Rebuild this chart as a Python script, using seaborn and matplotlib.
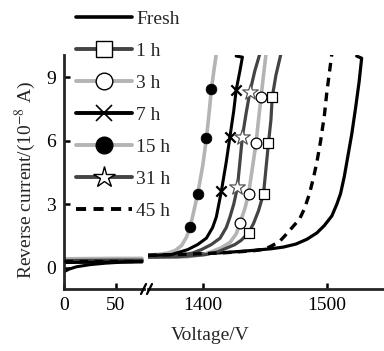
import matplotlib
matplotlib.use("Agg")
import matplotlib.pyplot as plt
from matplotlib.lines import Line2D
import seaborn as sns

# ---------------- data ----------------
labels = ["Fresh", "1 h", "3 h", "7 h", "15 h", "31 h", "45 h"]

# left segment (0-76 V)
left_v = [0, 25, 50, 75]
fresh_left_v = [0, 5, 12, 25, 40, 60, 75]
fresh_left_i = [-0.18, -0.06, 0.05, 0.15, 0.22, 0.28, 0.3]
h1_left_i = [0.30, 0.31, 0.32, 0.33]
h3_left_i = [0.38, 0.39, 0.40, 0.40]
h7_left_i = [0.25, 0.26, 0.27, 0.28]
h15_left_i = [0.42, 0.43, 0.44, 0.44]
h31_left_i = [0.34, 0.35, 0.36, 0.36]
h45_left_i = [0.30, 0.30, 0.30, 0.30]

# right segment (1356-1546 V)
fresh_v = [1356, 1380, 1400, 1420, 1440, 1455, 1465, 1475, 1484, 1492, 1498,
           1504, 1508, 1511, 1514, 1517, 1520, 1523, 1526, 1528, 1524]
fresh_i = [0.55, 0.6, 0.66, 0.73, 0.82, 0.9, 0.98, 1.12, 1.35, 1.65, 2.0,
           2.45, 3.0, 3.5, 4.3, 5.3, 6.3, 7.5, 8.8, 9.9, 10.0]

h1_v = [1356, 1380, 1402, 1412, 1420, 1426, 1431, 1437, 1441, 1445, 1449,
        1451, 1453, 1455, 1456, 1459, 1463]
h1_i = [0.5, 0.52, 0.62, 0.75, 0.95, 1.1, 1.3, 1.65, 2.1, 2.7, 3.5,
        4.7, 5.9, 7.0, 8.05, 9.1, 10.1]
h1_mv = [1437, 1449, 1453, 1456]
h1_mi = [1.65, 3.5, 5.9, 8.05]

h3_v = [1356, 1388, 1400, 1407, 1415, 1422, 1427, 1430, 1434, 1437, 1440,
        1443, 1445, 1447, 1449, 1451]
h3_i = [0.5, 0.52, 0.62, 0.76, 0.95, 1.2, 1.6, 2.1, 2.8, 3.5, 4.7,
        5.9, 7.0, 8.05, 9.1, 10.1]
h3_mv = [1430, 1437, 1443, 1447]
h3_mi = [2.1, 3.5, 5.9, 8.05]

h7_v = [1356, 1375, 1388, 1396, 1403, 1408, 1411, 1415, 1419, 1422, 1425,
        1427, 1430, 1432, 1427]
h7_i = [0.58, 0.63, 0.86, 1.1, 1.4, 1.9, 2.4, 3.6, 5.0, 6.2, 7.4,
        8.4, 9.3, 9.95, 10.0]
h7_mv = [1415, 1422, 1427]
h7_mi = [3.65, 6.2, 8.4]

h15_v = [1356, 1365, 1372, 1378, 1383, 1387, 1390, 1393, 1396, 1400, 1403,
         1405, 1407, 1409, 1411]
h15_i = [0.6, 0.64, 0.7, 0.82, 1.05, 1.45, 1.95, 2.7, 3.5, 4.8, 6.1,
         7.2, 8.4, 9.3, 10.1]
h15_mv = [1390, 1396, 1403, 1407]
h15_mi = [1.95, 3.5, 6.15, 8.45]

h31_v = [1356, 1380, 1392, 1399, 1407, 1414, 1419, 1422, 1425, 1428, 1430,
         1432, 1435, 1438, 1442, 1446]
h31_i = [0.55, 0.57, 0.7, 0.86, 1.1, 1.4, 1.9, 2.4, 3.0, 3.8, 5.0,
         6.2, 7.3, 8.3, 9.3, 10.1]
h31_mv = [1428, 1432, 1438]
h31_mi = [3.8, 6.2, 8.3]

h45_v = [1356, 1380, 1400, 1420, 1440, 1450, 1456, 1462, 1466, 1472, 1478,
         1482, 1486, 1489, 1492, 1495, 1498, 1500, 1502, 1504]
h45_i = [0.6, 0.63, 0.67, 0.72, 0.8, 0.88, 1.05, 1.25, 1.5, 1.9, 2.3,
         2.8, 3.5, 4.2, 5.0, 6.0, 7.2, 8.3, 9.2, 10.1]

left_xticks = [0, 50]
right_xticks = [1400, 1500]
yticks = [0, 3, 6, 9]

# ---------------- style ----------------
sns.set_style("ticks")
plt.rcParams["font.family"] = ["Liberation Serif", "DejaVu Serif"]
plt.rcParams["mathtext.fontset"] = "stix"
FS = 14

BLACK = "#000000"
DARK = "#444444"
LIGHT = "#b4b4b4"

fig = plt.figure(figsize=(3.84, 3.51), dpi=100)
W, H = 384, 351
axL = fig.add_axes([64 / W, 1 - 289 / H, (144 - 64) / W, (289 - 55) / H])
axR = fig.add_axes([148 / W, 1 - 289 / H, (384 - 148) / W, (289 - 55) / H])

def line(ax, x, y, color, lw, ls="-", z=2):
    sns.lineplot(x=x, y=y, ax=ax, color=color, lw=lw, sort=False,
                 estimator=None, linestyle=ls, zorder=z, legend=False)
    ln = ax.lines[-1]
    if ls == "--":
        ln.set_dashes((2.6, 1.9))
        ln.set_dash_capstyle("butt")
    return ln

# left segment
line(axL, left_v, h15_left_i, LIGHT, 2.8)
line(axL, left_v, h3_left_i, LIGHT, 2.8)
line(axL, left_v, h31_left_i, DARK, 2.4)
line(axL, left_v, h1_left_i, DARK, 2.4)
line(axL, left_v, h7_left_i, BLACK, 2.2)
line(axL, fresh_left_v, fresh_left_i, BLACK, 2.2)
line(axL, left_v, h45_left_i, BLACK, 2.4, "--", z=3)

# right segment
line(axR, fresh_v, fresh_i, BLACK, 2.3)
line(axR, h15_v, h15_i, LIGHT, 2.6)
line(axR, h3_v, h3_i, LIGHT, 2.6)
line(axR, h1_v, h1_i, DARK, 2.3)
line(axR, h31_v, h31_i, DARK, 2.3)
line(axR, h7_v, h7_i, BLACK, 2.2)
line(axR, h45_v, h45_i, BLACK, 2.4, "--", z=3)

sns.scatterplot(x=h1_mv, y=h1_mi, ax=axR, marker="s", s=55, color="white",
                edgecolor="black", linewidth=0.9, zorder=5)
sns.scatterplot(x=h3_mv, y=h3_mi, ax=axR, marker="o", s=60, color="white",
                edgecolor="black", linewidth=0.9, zorder=5)
sns.scatterplot(x=h7_mv, y=h7_mi, ax=axR, marker="x", s=55, color="black",
                linewidth=1.6, zorder=5)
sns.scatterplot(x=h15_mv, y=h15_mi, ax=axR, marker="o", s=60, color="black",
                edgecolor="black", linewidth=0.5, zorder=5)
sns.scatterplot(x=h31_mv, y=h31_mi, ax=axR, marker="*", s=140, color="white",
                edgecolor="#555555", linewidth=0.9, zorder=5)

# axes cosmetics
for ax in (axL, axR):
    ax.set_ylim(-1, 10.05)
    ax.set_xlabel("")
    ax.set_ylabel("")
    for s in ("top", "right"):
        ax.spines[s].set_visible(False)
    for s in ("left", "bottom"):
        ax.spines[s].set_linewidth(2.0)
    ax.tick_params(direction="in", length=4, width=1.8, labelsize=FS,
                   pad=6, colors="black")
    ax.patch.set_alpha(0)

axL.set_xlim(0, 77)
axL.set_xticks(left_xticks)
axL.set_yticks(yticks)
axL.set_xticklabels([str(t) for t in left_xticks])
axL.set_yticklabels([str(t) for t in yticks])

axR.set_xlim(1356, 1546)
axR.set_xticks(right_xticks)
axR.set_xticklabels([str(t) for t in right_xticks])
axR.spines["left"].set_visible(False)
axR.set_yticks([])

# axis break marks
for x0 in (141, 147):
    fig.add_artist(Line2D([x0 / W, (x0 + 5) / W], [1 - 294 / H, 1 - 284 / H],
                          color="black", lw=1.6))

fig.text(25 / W, 1 - 180 / H, "Reverse current/(10$^{-8}$ A)", rotation=90,
         ha="center", va="center", fontsize=FS)
fig.text(210 / W, 1 - 336 / H, "Voltage/V", ha="center", va="center",
         fontsize=FS)

# legend
handles = [
    Line2D([], [], color=BLACK, lw=2.6),
    Line2D([], [], color=DARK, lw=2.8, marker="s", ms=11.5, mfc="white",
           mec="black", mew=1.0),
    Line2D([], [], color=LIGHT, lw=2.8, marker="o", ms=12, mfc="white",
           mec="black", mew=1.0),
    Line2D([], [], color=BLACK, lw=2.8, marker="x", ms=11.5, mec="black",
           mew=1.2),
    Line2D([], [], color=LIGHT, lw=2.8, marker="o", ms=12, mfc="black",
           mec="black"),
    Line2D([], [], color=DARK, lw=2.8, marker="*", ms=16, mfc="white",
           mec="black", mew=1.0),
    Line2D([], [], color=BLACK, lw=2.8, ls=(0, (2.6, 1.9))),
]
fig.legend(handles, labels, loc="upper left",
           bbox_to_anchor=(76 / W, 1 - 10 / H), frameon=False, fontsize=FS,
           handlelength=2.9, handletextpad=0.2, labelspacing=0.74,
           borderpad=0, borderaxespad=0)

fig.savefig("out.png", dpi=100)
